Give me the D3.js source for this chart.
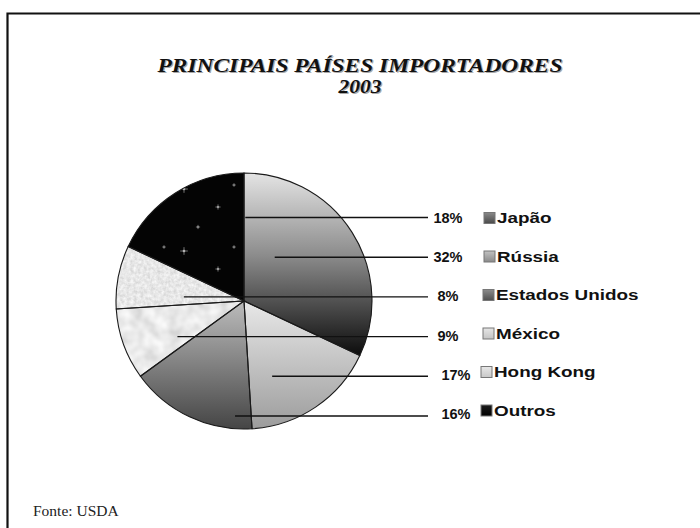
<!DOCTYPE html>
<html>
<head>
<meta charset="utf-8">
<script src="https://cdn.jsdelivr.net/npm/d3@7"></script>
<style>
  html, body { margin: 0; padding: 0; background: #fff; }
  svg { display: block; }
</style>
</head>
<body>
<svg id="chart" width="700" height="528"></svg>
<script>
// Principais países importadores, 2003 (participação %)
const countries = ["Japão", "Rússia", "Estados Unidos", "México", "Hong Kong", "Outros"];
const shares = [18, 32, 8, 9, 17, 16];
// clockwise order of the slices, starting at twelve o'clock
const sliceOrder = ["Rússia", "Hong Kong", "Outros", "México", "Estados Unidos", "Japão"];
const titleLines = ["PRINCIPAIS PAÍSES IMPORTADORES", "2003"];
const sourceNote = "Fonte: USDA";

const svg = d3.select("#chart");
const W = 700, H = 528;
const cx = 244, cy = 301, R = 128;

const defs = svg.append("defs");

// vertical shaded fills
function vGrad(id, stops) {
  const g = defs.append("linearGradient").attr("id", id)
    .attr("x1", 0).attr("y1", 0).attr("x2", 0).attr("y2", 1);
  stops.forEach(([o, c]) => g.append("stop").attr("offset", o).attr("stop-color", c));
}
vGrad("g-russia", [[0, "#e4e4e4"], [0.45, "#8c8c8c"], [1, "#0c0c0c"]]);
vGrad("g-hk", [[0, "#e8e8e8"], [1, "#9c9c9c"]]);
vGrad("g-outros", [[0, "#bcbcbc"], [1, "#454545"]]);

// stone-like textures
function noiseFilter(id, freq, octaves, scale, offset) {
  const f = defs.append("filter").attr("id", id)
    .attr("x", "-5%").attr("y", "-5%").attr("width", "110%").attr("height", "110%");
  f.append("feTurbulence").attr("type", "fractalNoise")
    .attr("baseFrequency", freq).attr("numOctaves", octaves).attr("seed", 3).attr("result", "n");
  const m = `${scale} 0 0 0 ${offset}`;
  f.append("feColorMatrix").attr("in", "n").attr("type", "matrix")
    .attr("values", `${m} ${m} ${m} 0 0 0 0 1`).attr("result", "g");
  f.append("feComposite").attr("in", "g").attr("in2", "SourceAlpha").attr("operator", "in");
}
noiseFilter("tex-granite", 0.3, 3, 0.4, 0.6);
noiseFilter("tex-drops", 0.08, 2, 0.45, 0.6);

// night-sky fill
const sky = defs.append("pattern").attr("id", "p-sky").attr("patternUnits", "userSpaceOnUse")
  .attr("width", 70).attr("height", 62);
sky.append("rect").attr("width", 70).attr("height", 62).attr("fill", "#040404");
[[10, 12, 2.4], [44, 30, 1.6], [24, 50, 1.3], [60, 8, 1.1]].forEach(([x, y, s]) => {
  sky.append("circle").attr("cx", x).attr("cy", y).attr("r", s * 0.55).attr("fill", "#aaa");
  sky.append("path").attr("d", `M${x - s * 1.6},${y}H${x + s * 1.6}M${x},${y - s * 1.6}V${y + s * 1.6}`)
    .attr("stroke", "#bbb").attr("stroke-width", 0.6);
});

const sliceFill = {
  "Rússia": { fill: "url(#g-russia)" },
  "Hong Kong": { fill: "url(#g-hk)" },
  "Outros": { fill: "url(#g-outros)" },
  "México": { fill: "#d2d2d2", filter: "url(#tex-drops)" },
  "Estados Unidos": { fill: "#c8c8c8", filter: "url(#tex-granite)" },
  "Japão": { fill: "url(#p-sky)" }
};
const swatchFill = {
  "Japão": ["#8a8a8a", "#4a4a4a"],
  "Rússia": ["#c2c2c2", "#8a8a8a"],
  "Estados Unidos": ["#8c8c8c", "#505050"],
  "México": ["#e6e6e6", "#c4c4c4"],
  "Hong Kong": ["#e8e8e8", "#c8c8c8"],
  "Outros": ["#1c1c1c", "#000000"]
};
Object.entries(swatchFill).forEach(([k, [a, b]], i) => vGrad("sw" + i, [[0, a], [1, b]]));

// frame
svg.append("path").attr("d", `M7.5,${H}V13.5H${W}`).attr("fill", "none")
  .attr("stroke", "#111").attr("stroke-width", 2.2);

// title (wide bold italic serif with a soft drop shadow)
const titleG = svg.append("g").attr("font-family", "'Liberation Serif', 'Times New Roman', serif")
  .attr("font-weight", "bold").attr("font-style", "italic").attr("font-size", 19.5)
  .attr("text-anchor", "middle");
const titleWidth = [405, 43];
[[1.2, "#a8a8a8"], [0, "#111"]].forEach(([o, c]) => {
  titleLines.forEach((t, i) => {
    titleG.append("text").attr("x", 360 + o).attr("y", 72 + i * 21 + o).attr("fill", c)
      .attr("textLength", titleWidth[i]).attr("lengthAdjust", "spacingAndGlyphs").text(t);
  });
});

// pie
const value = new Map(countries.map((c, i) => [c, shares[i]]));
const pie = d3.pie().sort(null).value(d => d.value);
const arcs = pie(sliceOrder.map(name => ({ name, value: value.get(name) })));
const arc = d3.arc().innerRadius(0).outerRadius(R);
const pieG = svg.append("g").attr("transform", `translate(${cx},${cy})`);
pieG.selectAll("path.slice").data(arcs).join("path").attr("class", "slice")
  .attr("d", arc)
  .attr("fill", d => sliceFill[d.data.name].fill)
  .attr("filter", d => sliceFill[d.data.name].filter || null);
pieG.selectAll("path.edge").data(arcs).join("path").attr("class", "edge")
  .attr("d", arc).attr("fill", "none").attr("stroke", "#1a1a1a").attr("stroke-width", 1.1);

// rows to the right: leader line, percentage, legend entry
const lineY = d3.scaleLinear().domain([0, countries.length - 1]).range([217.5, 416]);
const pctY = d3.scaleLinear().domain([0, countries.length - 1]).range([218, 413.5]);
const legY = d3.scaleLinear().domain([0, countries.length - 1]).range([218, 410.5]);
const px = d3.scaleLinear().domain([-1, 1]).range([cx - R, cx + R]);
// where each leader enters its slice, in radius units from the centre
const leaderReach = [0.01, 0.24, -0.47, -0.52, 0.22, -0.07];

const rows = svg.append("g");
rows.selectAll("line").data(countries).join("line")
  .attr("x1", (d, i) => px(leaderReach[i])).attr("x2", 428)
  .attr("y1", (d, i) => lineY(i)).attr("y2", (d, i) => lineY(i))
  .attr("stroke", "#111").attr("stroke-width", 1.4);

rows.selectAll("text.pct").data(countries).join("text").attr("class", "pct")
  .attr("x", (d, i) => i < 4 ? 448 : 456).attr("y", (d, i) => pctY(i)).attr("dy", "0.36em")
  .attr("text-anchor", "middle")
  .attr("font-family", "'Liberation Sans', Arial, sans-serif").attr("font-weight", "bold")
  .attr("font-size", 14.5).attr("fill", "#111")
  .text((d, i) => shares[i] + "%");

const leg = rows.selectAll("g.leg").data(countries).join("g").attr("class", "leg")
  .attr("transform", (d, i) => `translate(${484 - (i > 3 ? 3 : i > 1 ? 1 : 0)},${legY(i)})`);
leg.append("rect").attr("x", 0).attr("y", -5.5).attr("width", 11).attr("height", 11)
  .attr("fill", (d, i) => `url(#sw${i})`).attr("stroke", "#777").attr("stroke-width", 1);
leg.append("text").attr("x", 13).attr("dy", "0.37em")
  .attr("font-family", "'Liberation Sans', Arial, sans-serif").attr("font-weight", "bold")
  .attr("font-size", 14.5).attr("fill", "#111")
  .text(d => d)
  .each(function () {
    const w = this.getComputedTextLength();
    d3.select(this).attr("textLength", w * 1.3).attr("lengthAdjust", "spacingAndGlyphs");
  });

// source
svg.append("text").attr("x", 33).attr("y", 516)
  .attr("font-family", "'Liberation Serif', 'Times New Roman', serif").attr("font-size", 15.5)
  .attr("fill", "#222").text(sourceNote);
</script>
</body>
</html>
